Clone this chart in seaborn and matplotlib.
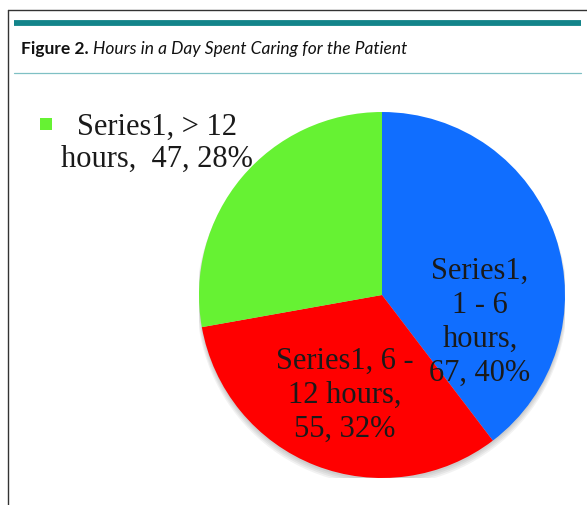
import matplotlib
matplotlib.use("Agg")
import matplotlib.pyplot as plt
import seaborn as sns
from matplotlib.patches import Rectangle, Circle
from matplotlib.lines import Line2D

# ---- data ----
categories = ["1 - 6 hours", "6 - 12 hours", "> 12 hours"]
counts = [67, 55, 47]
percents = [40, 32, 28]
series_name = "Series1"
colors = ["#106EFF", "#FF0000", "#66F233"]
title_bold = "Figure 2."
title_italic = "Hours in a Day Spent Caring for the Patient"

sns.set_theme(style="white")
plt.rcParams["font.family"] = ["DejaVu Sans"]

W, H = 587, 505
fig = plt.figure(figsize=(W / 100, H / 100), dpi=100)
fig.patch.set_facecolor("white")

def fx(px):
    return px / W

def fy(py):
    return 1 - py / H

# frame lines
fig.add_artist(Line2D([fx(8), fx(8)], [fy(10), fy(505)], color="#333333", lw=1.0))
fig.add_artist(Line2D([fx(8), fx(587)], [fy(10), fy(10)], color="#333333", lw=1.0))
fig.add_artist(Line2D([fx(14), fx(581)], [fy(23), fy(23)], color="#13848A", lw=4.2, solid_capstyle="butt"))
fig.add_artist(Line2D([fx(14), fx(581)], [fy(73), fy(73)], color="#7FC0C4", lw=0.9))

# title
t1 = fig.text(fx(21), fy(49), title_bold, fontsize=12.5, fontweight="bold",
              family="Lato", va="center", ha="left", color="#111111")
fig.canvas.draw()
bb = t1.get_window_extent()
fig.text(bb.x1 / W + fx(4), fy(49), title_italic, fontsize=12.5, style="italic",
         family="Lato", va="center", ha="left", color="#111111")

# pie
cx, cy, r = 382, 295, 183
ax = fig.add_axes([fx(cx - r), fy(cy + r), 2 * r / W, 2 * r / H])
# soft shadow
for k, a in enumerate([0.05, 0.05, 0.05, 0.05]):
    ax.add_patch(Circle((0, -0.012 - 0.006 * k), 1.0 + 0.004 * k, facecolor="black",
                        edgecolor="none", alpha=a, zorder=0))
wedges, _ = ax.pie(counts, colors=colors, startangle=90, counterclock=False,
                   wedgeprops=dict(linewidth=0, zorder=1))
ax.set_xlim(-1, 1)
ax.set_ylim(-1, 1)
ax.axis("off")

serif = "Liberation Serif"
fs = 22
label_texts = [
    f"{series_name},\n{categories[0].split(' hours')[0]}\nhours,\n{counts[0]}, {percents[0]}%",
    f"{series_name}, {categories[1].split(' hours')[0].replace(' - 12', ' -')}\n12 hours,\n{counts[1]}, {percents[1]}%",
]
label_pos = [(0.535, -0.148), (-0.205, -0.55)]
for txt, (x, y) in zip(label_texts, label_pos):
    ax.text(x, y, txt, ha="center", va="center", fontsize=fs, family=serif,
            color="#1a1a1a", linespacing=1.22, zorder=3)

# green label outside with key
fig.add_artist(Rectangle((fx(40), fy(130)), 12 / W, 12 / H, transform=fig.transFigure,
                         facecolor=colors[2], edgecolor="none"))
fig.text(fx(157), fy(143), f"{series_name}, {categories[2].split(' hours')[0]}\nhours,  {counts[2]}, {percents[2]}%",
         ha="center", va="center", fontsize=fs, family=serif, color="#1a1a1a",
         linespacing=1.15)

fig.savefig("out.png", dpi=100)
